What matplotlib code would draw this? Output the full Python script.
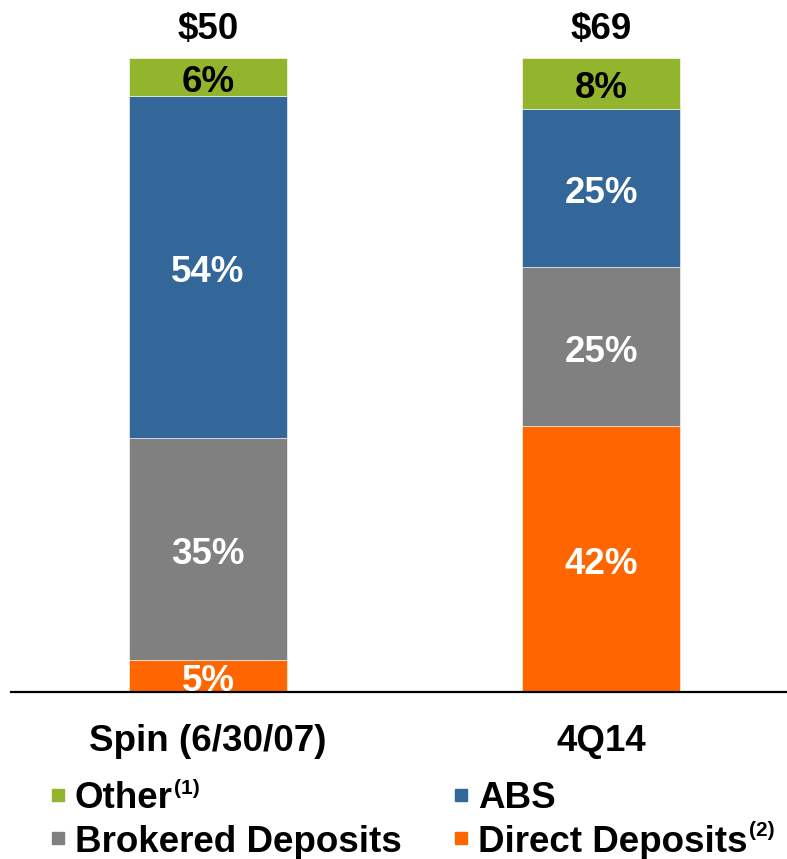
import matplotlib
matplotlib.use("Agg")
import matplotlib.pyplot as plt
from matplotlib.patches import Rectangle

# Funding mix, share of total (%)
categories = ["Spin (6/30/07)", "4Q14"]
totals = ["$50", "$69"]
series_names = ["Direct Deposits", "Brokered Deposits", "ABS", "Other"]
series_notes = ["(2)", "", "", "(1)"]
direct = [5, 42]
brokered = [35, 25]
abs_ = [54, 25]
other = [6, 8]
series_values = [direct, brokered, abs_, other]
colors = ["#FF6600", "#808080", "#336699", "#93B52D"]
label_colors = ["white", "white", "white", "black"]

plt.rcParams["font.family"] = ["Liberation Sans", "DejaVu Sans"]
plt.rcParams["font.weight"] = "bold"
FS = 26.5

W, H = 787, 859
fig = plt.figure(figsize=(W / 100, H / 100), dpi=100)
ax = fig.add_axes([11 / W, 1 - 692 / H, (787 - 11) / W, (692 - 58) / H])

x = list(range(len(categories)))
bottom = [0] * len(categories)
for vals, col, lc in zip(series_values, colors, label_colors):
    ax.bar(x, vals, width=0.402, bottom=bottom, color=col,
           edgecolor="white", linewidth=0.4)
    for xi, b, v in zip(x, bottom, vals):
        ax.annotate(f"{v}%", (xi, b + v / 2), xytext=(0, -4),
                    textcoords="offset points", ha="center", va="center",
                    color=lc, fontsize=FS, fontweight="bold")
    bottom = [b + v for b, v in zip(bottom, vals)]

for xi, top, t in zip(x, bottom, totals):
    ax.annotate(t, (xi, top), xytext=(0, 20.5), textcoords="offset points",
                ha="center", va="center", fontsize=FS, fontweight="bold")

ax.set_xlim(-0.501, 1.473)
ax.set_ylim(0, 100)
ax.set_xticks(x)
ax.set_xticklabels(categories, fontsize=FS, fontweight="bold")
ax.tick_params(axis="x", length=0, pad=23)
ax.set_yticks([])
for s in ["top", "left", "right"]:
    ax.spines[s].set_visible(False)
ax.spines["bottom"].set_linewidth(1.6)

# Legend laid out in two columns, with footnote superscripts
legend_order = [3, 2, 1, 0]
positions = [(52, 795), (455, 795), (52, 838), (455, 838)]
renderer = fig.canvas.get_renderer()
for idx, (px, py) in zip(legend_order, positions):
    fig.patches.append(Rectangle((px / W, 1 - (py + 6) / H), 12 / W, 12 / H,
                                 transform=fig.transFigure,
                                 color=colors[idx]))
    t = fig.text((px + 23) / W, 1 - (py + 4) / H, series_names[idx],
                 ha="left", va="center", fontsize=FS, fontweight="bold")
    if series_notes[idx]:
        bb = t.get_window_extent(renderer)
        fig.text(bb.x1 / W + 1 / W, 1 - (py - 7) / H, series_notes[idx],
                 ha="left", va="center", fontsize=15, fontweight="bold")

fig.savefig("out.png", dpi=100)
